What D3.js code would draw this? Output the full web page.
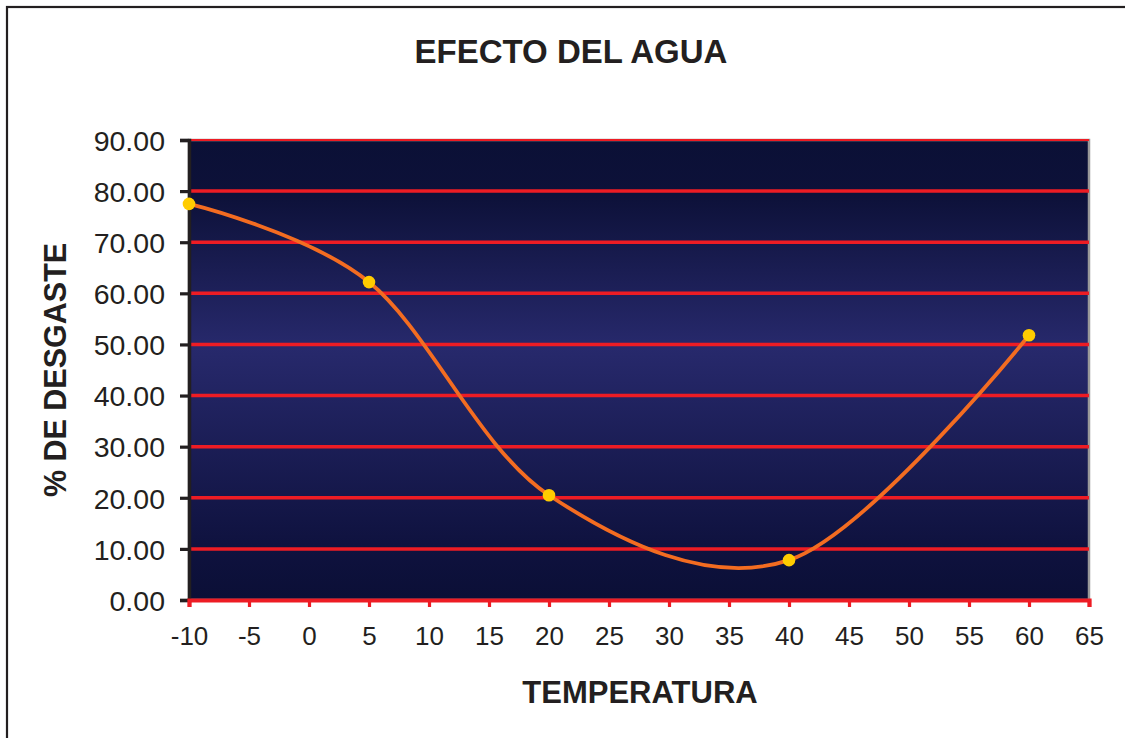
<!DOCTYPE html>
<html>
<head>
<meta charset="utf-8">
<script src="https://cdn.jsdelivr.net/npm/d3@7"></script>
<style>
  html, body { margin: 0; padding: 0; background: #ffffff; }
  svg { display: block; }
  text { font-family: "Liberation Sans", Arial, Helvetica, sans-serif; fill: #231f20; }
</style>
</head>
<body>
<svg id="chart" width="1125" height="738"></svg>
<script>
// Wear percentage measured at each water temperature
const temperatures = [-10, 5, 20, 40, 60];
const wearPercent = [77.5, 62.2, 20.5, 7.8, 51.8];

const xTicks = [-10, -5, 0, 5, 10, 15, 20, 25, 30, 35, 40, 45, 50, 55, 60, 65];
const yTicks = [0, 10, 20, 30, 40, 50, 60, 70, 80, 90];

const chartTitle = "EFECTO DEL AGUA";
const xTitle = "TEMPERATURA";
const yTitle = "% DE DESGASTE";

const svg = d3.select("#chart");
const W = 1125, H = 738;
const plot = { left: 189, right: 1089, top: 140, bottom: 600 };

const x = d3.scaleLinear().domain([-10, 65]).range([plot.left, plot.right]);
const y = d3.scaleLinear().domain([0, 90]).range([plot.bottom, plot.top]);

// Outer frame
svg.append("rect")
  .attr("x", 7).attr("y", 7)
  .attr("width", W + 10).attr("height", H + 10)
  .attr("fill", "#ffffff")
  .attr("stroke", "#231f20")
  .attr("stroke-width", 2.2);

// Plot background: navy gradient, lighter through the middle
const defs = svg.append("defs");
const grad = defs.append("linearGradient")
  .attr("id", "plotBg")
  .attr("x1", 0).attr("y1", 0).attr("x2", 0).attr("y2", 1);
grad.append("stop").attr("offset", "0%").attr("stop-color", "#0b1036");
grad.append("stop").attr("offset", "12%").attr("stop-color", "#0d1139");
grad.append("stop").attr("offset", "45%").attr("stop-color", "#27296c");
grad.append("stop").attr("offset", "88%").attr("stop-color", "#0f123f");
grad.append("stop").attr("offset", "100%").attr("stop-color", "#0b0f36");

svg.append("rect")
  .attr("x", plot.left).attr("y", plot.top)
  .attr("width", plot.right - plot.left)
  .attr("height", plot.bottom - plot.top)
  .attr("fill", "url(#plotBg)")
  .attr("stroke", "#9a9a9a")
  .attr("stroke-width", 2.5);

// Horizontal gridlines
svg.append("g")
  .selectAll("line")
  .data(yTicks.filter(d => d > 0))
  .join("line")
  .attr("x1", plot.left).attr("x2", plot.right)
  .attr("y1", d => y(d)).attr("y2", d => y(d))
  .attr("stroke", "#ed1c24")
  .attr("stroke-width", d => d === 90 ? 2.2 : 3.5);

// Y axis (black)
const yAxis = svg.append("g")
  .attr("transform", `translate(${plot.left},0)`)
  .call(d3.axisLeft(y).tickValues(yTicks).tickFormat(d3.format(".2f")).tickSize(9).tickPadding(15));
yAxis.select(".domain").attr("stroke", "#231f20").attr("stroke-width", 3.5);
yAxis.selectAll(".tick line").attr("stroke", "#231f20").attr("stroke-width", 3.2);
yAxis.selectAll(".tick text")
  .attr("font-size", "28.5px")
  .attr("fill", "#231f20")
  .attr("dy", "0.36em");

// X axis (red); labels keep a plain hyphen for negatives
const xAxis = svg.append("g")
  .attr("transform", `translate(0,${plot.bottom})`)
  .call(d3.axisBottom(x).tickValues(xTicks).tickFormat(d => String(d)).tickSize(7).tickPadding(20));
xAxis.select(".domain").attr("stroke", "#ed1c24").attr("stroke-width", 4.2);
xAxis.selectAll(".tick line").attr("stroke", "#ed1c24").attr("stroke-width", 3.2);
xAxis.selectAll(".tick text")
  .attr("font-size", "26px")
  .attr("fill", "#231f20");

// Smoothed series line
const pts = temperatures.map((t, i) => [t, wearPercent[i]]);
const line = d3.line()
  .x(d => x(d[0]))
  .y(d => y(d[1]))
  .curve(d3.curveCardinal.tension(0));

svg.append("path")
  .datum(pts)
  .attr("d", line)
  .attr("fill", "none")
  .attr("stroke", "#f36c21")
  .attr("stroke-width", 3.8)
  .attr("stroke-linejoin", "round");

// Markers
svg.append("g")
  .selectAll("circle")
  .data(pts)
  .join("circle")
  .attr("cx", d => x(d[0]))
  .attr("cy", d => y(d[1]))
  .attr("r", 6.3)
  .attr("fill", "#ffcc00");

// Titles
svg.append("text")
  .attr("x", 571).attr("y", 63)
  .attr("text-anchor", "middle")
  .attr("font-size", "33px")
  .attr("font-weight", "bold")
  .text(chartTitle);

svg.append("text")
  .attr("x", 640).attr("y", 703)
  .attr("text-anchor", "middle")
  .attr("font-size", "31px")
  .attr("font-weight", "bold")
  .text(xTitle);

svg.append("text")
  .attr("transform", "translate(66,370) rotate(-90)")
  .attr("text-anchor", "middle")
  .attr("font-size", "30.5px")
  .attr("font-weight", "bold")
  .text(yTitle);
</script>
</body>
</html>
